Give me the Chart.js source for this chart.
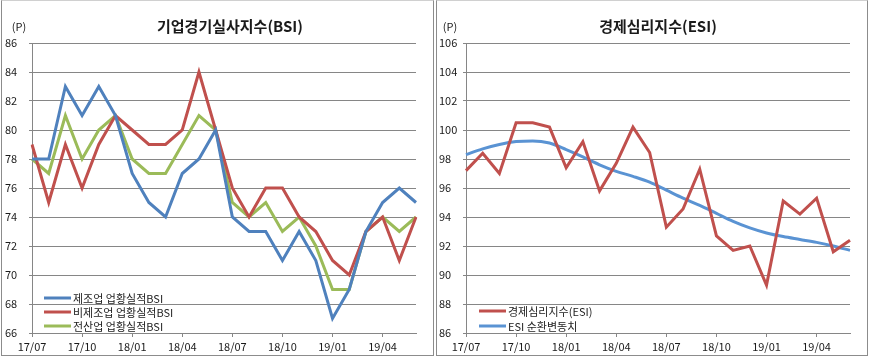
<!DOCTYPE html>
<html>
<head>
<meta charset="utf-8">
<script src="https://cdn.jsdelivr.net/npm/chart.js@4/dist/chart.umd.min.js"></script>
<style>
  html, body { margin: 0; padding: 0; background: #fff; }
  body { width: 869px; height: 359px; position: relative; overflow: hidden; }
  .panel { position: absolute; top: 0px; height: 356px; border: 1px solid #8c8c8c; border-top-color: #d0d0d0; box-sizing: border-box; background: #fff; }
  #p1 { left: 1px; width: 433px; }
  #p2 { left: 436px; width: 432px; }
  canvas { position: absolute; top: 1px; }
</style>
</head>
<body>
<div class="panel" id="p1"><canvas id="c1" width="431" height="354" style="left:0;width:431px;height:354px"></canvas></div>
<div class="panel" id="p2"><canvas id="c2" width="430" height="354" style="left:0;width:430px;height:354px"></canvas></div>
<script>
// ---- data ----
const months = ["17/07","17/08","17/09","17/10","17/11","17/12","18/01","18/02","18/03","18/04","18/05","18/06",
                "18/07","18/08","18/09","18/10","18/11","18/12","19/01","19/02","19/03","19/04","19/05","19/06"];
const bsiLabels = ["제조업 업황실적BSI","비제조업 업황실적BSI","전산업 업황실적BSI"];
const bsiManufacturing = [78,78,83,81,83,81,77,75,74,77,78,80,74,73,73,71,73,71,67,69,73,75,76,75];
const bsiNonManufacturing = [79,75,79,76,79,81,80,79,79,80,84,80,76,74,76,76,74,73,71,70,73,74,71,74];
const bsiAllIndustry = [78,77,81,78,80,81,78,77,77,79,81,80,75,74,75,73,74,72,69,69,73,74,73,74];
const esiLabels = ["경제심리지수(ESI)","ESI 순환변동치"];
const esiValues = [97.2,98.4,97.0,100.5,100.5,100.2,97.4,99.2,95.8,97.7,100.2,98.45,93.3,94.55,97.3,92.7,91.7,92.0,89.3,95.1,94.2,95.3,91.6,92.4];
const esiCycle = [98.3,98.7,99.0,99.2,99.25,99.1,98.65,98.15,97.6,97.15,96.8,96.4,95.85,95.3,94.8,94.25,93.7,93.25,92.9,92.65,92.45,92.25,92.0,91.7];
const bsiTicks = {min:66, max:86, step:2};
const esiTicks = {min:86, max:106, step:2};
const titles = ["기업경기실사지수(BSI)","경제심리지수(ESI)"];
const unitLabel = "(P)";

// ---- styles ----
const BLUE = '#4F81BD', RED = '#C0504D', GREEN = '#9BBB59', TREND = '#5A93D3';
const GRID = '#868686';
const FONT = "'Noto Sans CJK KR', 'Noto Sans', sans-serif";
const TEXT = '#1a1a1a';

function decorPlugin(cfg) {
  return {
    id: 'decor',
    afterDraw(chart) {
      const ctx = chart.ctx;
      ctx.save();
      ctx.fillStyle = TEXT;
      ctx.textBaseline = 'middle';
      // title
      ctx.font = "bold 15px " + FONT;
      ctx.textAlign = 'center';
      ctx.fillText(cfg.title, cfg.titleX, cfg.titleY);
      // unit
      ctx.font = "11px " + FONT;
      ctx.fillText(unitLabel, cfg.unitX, cfg.unitY);
      // legend
      ctx.textAlign = 'left';
      ctx.font = "11px " + FONT;
      chart.data.datasets.forEach((ds, i) => {
        const y = cfg.legY + i * cfg.legGap;
        ctx.strokeStyle = ds.borderColor;
        ctx.lineWidth = 3;
        ctx.beginPath();
        ctx.moveTo(cfg.legX, y);
        ctx.lineTo(cfg.legX + 27, y);
        ctx.stroke();
        ctx.fillStyle = '#222';
        ctx.fillText(ds.label, cfg.legX + 29, y + 0.5);
      });
      ctx.restore();
    }
  };
}

function makeOptions(ticks, padLeft, yWidth) {
  return {
    responsive: false,
    animation: false,
    layout: { padding: { left: padLeft, right: 17, top: 41, bottom: 0 } },
    plugins: { legend: { display: false }, title: { display: false }, tooltip: { enabled: false } },
    scales: {
      x: {
        type: 'category',
        offset: false,
        grid: {
          display: true, drawOnChartArea: false, drawTicks: true, tickLength: 4,
          color: (c) => (c.index % 3 === 0 ? GRID : 'rgba(0,0,0,0)')
        },
        border: { display: true, color: GRID, width: 1 },
        ticks: {
          autoSkip: false, maxRotation: 0, minRotation: 0, padding: 3,
          color: TEXT, font: { family: FONT, size: 11 },
          callback: function(v, i) { return i % 3 === 0 ? this.getLabelForValue(v) : ''; }
        },
        afterFit(s) { s.height = 23; }
      },
      y: {
        min: ticks.min, max: ticks.max,
        grid: { color: GRID, lineWidth: 1, drawTicks: true, tickLength: 3 },
        border: { display: true, color: GRID, width: 1 },
        ticks: {
          stepSize: ticks.step, crossAlign: 'far', padding: 6,
          color: TEXT, font: { family: FONT, size: 11 }
        },
        afterFit(s) { s.width = yWidth; }
      }
    }
  };
}

new Chart(document.getElementById('c1'), {
  type: 'line',
  data: {
    labels: months,
    datasets: [
      { label: bsiLabels[0], data: bsiManufacturing, borderColor: BLUE, borderWidth: 3, pointRadius: 0, tension: 0, fill: false },
      { label: bsiLabels[1], data: bsiNonManufacturing, borderColor: RED, borderWidth: 3, pointRadius: 0, tension: 0, fill: false },
      { label: bsiLabels[2], data: bsiAllIndustry, borderColor: GREEN, borderWidth: 3, pointRadius: 0, tension: 0, fill: false }
    ]
  },
  options: makeOptions(bsiTicks, 3, 27),
  plugins: [decorPlugin({ title: titles[0], titleX: 228, titleY: 24, unitX: 17, unitY: 25, legX: 42, legY: 296, legGap: 14 })]
});

new Chart(document.getElementById('c2'), {
  type: 'line',
  data: {
    labels: months,
    datasets: [
      { label: esiLabels[0], data: esiValues, borderColor: RED, borderWidth: 3, pointRadius: 0, tension: 0, fill: false },
      { label: esiLabels[1], data: esiCycle, borderColor: TREND, borderWidth: 3, pointRadius: 0, cubicInterpolationMode: 'monotone', fill: false }
    ]
  },
  options: makeOptions(esiTicks, 2, 27),
  plugins: [decorPlugin({ title: titles[1], titleX: 221, titleY: 24, unitX: 13, unitY: 25, legX: 42, legY: 309, legGap: 15 })]
});
</script>
</body>
</html>
